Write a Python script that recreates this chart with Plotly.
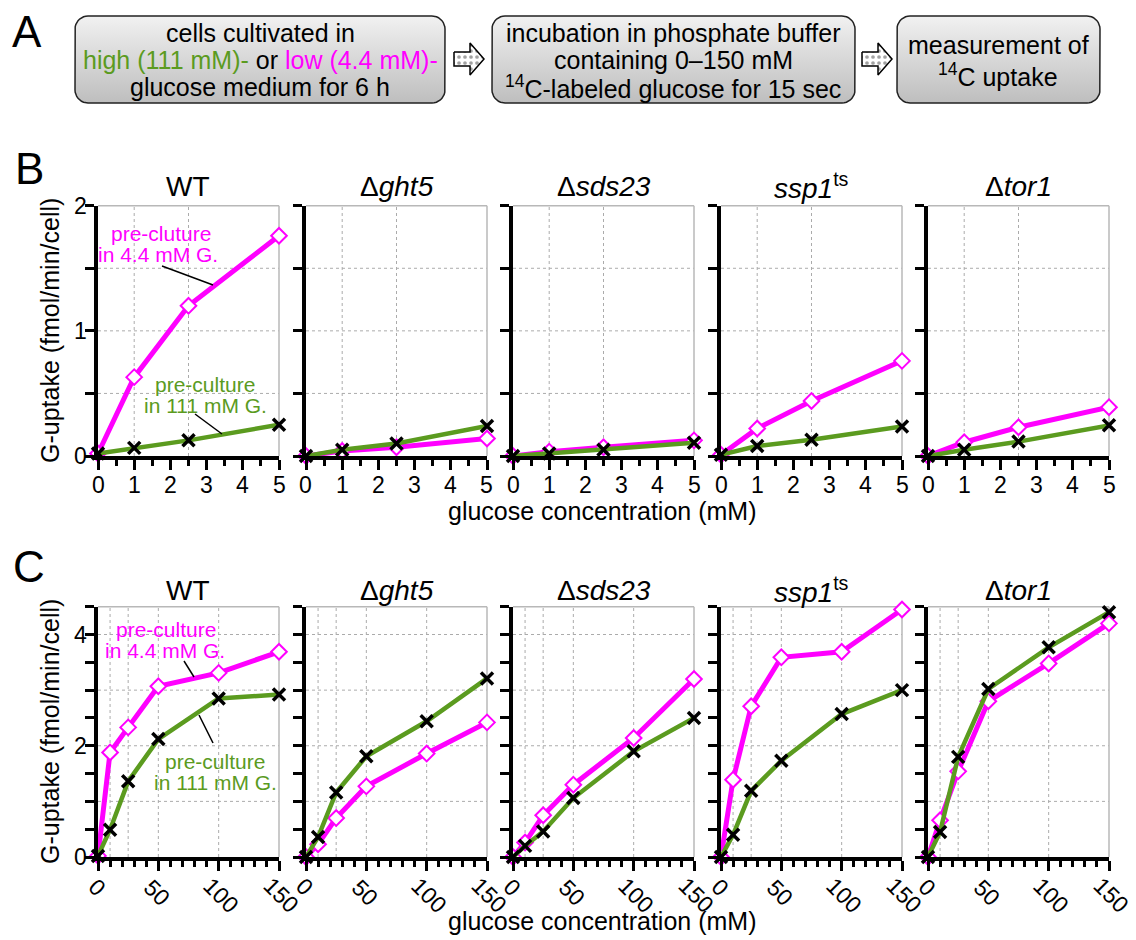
import numpy as np
import plotly.graph_objects as go

W, H = 1136, 940
FONT = "Liberation Sans, Arial, sans-serif"
GREEN = "#5b9b1f"
MAGENTA = "#ff00ff"
GRID = "#ababab"
BORDER = "#b8b8b8"

# ---------------- data ----------------
strain_titles = ["WT", "Δ<i>ght5</i>", "Δ<i>sds23</i>", "<i>ssp1</i><sup>ts</sup>", "Δ<i>tor1</i>"]

# Panel B: 0-5 mM glucose
b_conc = [0, 1, 2.5, 5]
b_wt_low = [0.02, 0.63, 1.20, 1.76]
b_wt_high = [0.02, 0.065, 0.125, 0.25]
b_ght5_low = [0.0, 0.04, 0.07, 0.14]
b_ght5_high = [0.0, 0.05, 0.10, 0.24]
b_sds23_low = [0.0, 0.035, 0.07, 0.125]
b_sds23_high = [0.0, 0.02, 0.05, 0.105]
b_ssp1_low = [0.01, 0.22, 0.44, 0.76]
b_ssp1_high = [0.01, 0.08, 0.13, 0.235]
b_tor1_low = [0.0, 0.11, 0.23, 0.39]
b_tor1_high = [0.0, 0.05, 0.115, 0.245]
b_xticks = [0, 1, 2, 3, 4, 5]
b_yticks = [0, 0.5, 1, 1.5, 2]
b_ylabels = [0, 1, 2]
b_ygrid = [0.5, 1, 1.5]

# Panel C: 0-150 mM glucose
c_conc = [0, 10, 25, 50, 100, 150]
c_wt_low = [0.02, 1.88, 2.33, 3.07, 3.31, 3.69]
c_wt_high = [0.02, 0.49, 1.36, 2.12, 2.85, 2.92]
c_ght5_low = [0.0, 0.23, 0.70, 1.27, 1.86, 2.42]
c_ght5_high = [0.0, 0.36, 1.16, 1.81, 2.44, 3.21]
c_sds23_low = [0.0, 0.26, 0.75, 1.30, 2.14, 3.20]
c_sds23_high = [0.0, 0.20, 0.46, 1.06, 1.90, 2.50]
c_ssp1_low = [0.0, 1.39, 2.71, 3.59, 3.69, 4.45]
c_ssp1_high = [0.0, 0.40, 1.19, 1.73, 2.57, 3.00]
c_tor1_low = [0.0, 0.66, 1.54, 2.80, 3.48, 4.20]
c_tor1_high = [0.0, 0.45, 1.80, 3.02, 3.77, 4.40]
c_xticks = [0, 50, 100, 150]
c_yticks = [0, 0.5, 1, 1.5, 2, 2.5, 3, 3.5, 4, 4.5]
c_ylabels = [0, 2, 4]
c_ygrid = [1, 2, 3, 4]

b_low = [b_wt_low, b_ght5_low, b_sds23_low, b_ssp1_low, b_tor1_low]
b_high = [b_wt_high, b_ght5_high, b_sds23_high, b_ssp1_high, b_tor1_high]
c_low = [c_wt_low, c_ght5_low, c_sds23_low, c_ssp1_low, c_tor1_low]
c_high = [c_wt_high, c_ght5_high, c_sds23_high, c_ssp1_high, c_tor1_high]

# ---------------- layout geometry (pixels) ----------------
panel_x = [(98, 279), (306, 487), (513, 694), (721, 902), (928, 1109)]
row_y = [(205.7, 456), (606.7, 857)]


def fx(p):
    return p / W


def fy(p):
    return 1 - p / H


fig = go.Figure()
shapes = []
annotations = []


def ann(text, x, y, size, color="black", angle=0):
    annotations.append(dict(
        text=text, x=fx(x), y=fy(y), xref="paper", yref="paper",
        showarrow=False, xanchor="center", yanchor="middle",
        textangle=angle, font=dict(family=FONT, size=size, color=color)))


layout_axes = {}
for row in range(2):
    conc = b_conc if row == 0 else c_conc
    lows = b_low if row == 0 else c_low
    highs = b_high if row == 0 else c_high
    yr = [0, 2] if row == 0 else [0, 4.5]
    xr = [0, 5] if row == 0 else [0, 150]
    ytv = b_yticks if row == 0 else c_yticks
    ylab = b_ylabels if row == 0 else c_ylabels
    xtv = b_xticks if row == 0 else c_xticks
    ygrid = b_ygrid if row == 0 else c_ygrid
    for col in range(5):
        n = row * 5 + col + 1
        xa = "x" if n == 1 else f"x{n}"
        ya = "y" if n == 1 else f"y{n}"
        xkey = "xaxis" if n == 1 else f"xaxis{n}"
        ykey = "yaxis" if n == 1 else f"yaxis{n}"
        l, r = panel_x[col]
        t, b = row_y[row]
        layout_axes[xkey] = dict(
            domain=[fx(l), fx(r)], range=xr, anchor=ya, automargin=False,
            showline=True, linecolor="black", linewidth=4,
            ticks="outside", ticklen=10, tickwidth=3, tickcolor="black",
            tickmode="array", tickvals=xtv, showticklabels=False,
            minor=dict(ticks="outside", dtick=0.5 if row == 0 else 10, tick0=0,
                       ticklen=6, tickwidth=3, tickcolor="black", showgrid=False),
            showgrid=False, zeroline=False, fixedrange=True)
        layout_axes[ykey] = dict(
            domain=[fy(b), fy(t)], range=yr, anchor=xa, automargin=False,
            showline=True, linecolor="black", linewidth=4,
            ticks="outside", ticklen=9, tickwidth=3, tickcolor="black",
            tickmode="array", tickvals=ytv, showticklabels=False,
            showgrid=False, zeroline=False, fixedrange=True)
        # gridlines
        for v in conc[1:-1]:
            shapes.append(dict(type="line", xref=xa, yref=f"{ya} domain", x0=v, x1=v, y0=0, y1=1,
                               line=dict(color=GRID, width=1, dash="dot"), layer="below"))
        for v in ygrid:
            shapes.append(dict(type="line", xref=f"{xa} domain", yref=ya, x0=0, x1=1, y0=v, y1=v,
                               line=dict(color=GRID, width=1, dash="dot"), layer="below"))
        # grey top/right frame
        shapes.append(dict(type="line", xref=f"{xa} domain", yref=f"{ya} domain", x0=0, x1=1, y0=1, y1=1,
                           line=dict(color=BORDER, width=1.5), layer="below"))
        shapes.append(dict(type="line", xref=f"{xa} domain", yref=f"{ya} domain", x0=1, x1=1, y0=0, y1=1,
                           line=dict(color=BORDER, width=1.5), layer="below"))
        # traces
        fig.add_trace(go.Scatter(
            x=conc, y=lows[col], xaxis=xa, yaxis=ya, mode="lines+markers", cliponaxis=False,
            line=dict(color=MAGENTA, width=5),
            marker=dict(symbol="diamond", size=12, color="white", line=dict(color=MAGENTA, width=2)),
            hoverinfo="skip", showlegend=False))
        fig.add_trace(go.Scatter(
            x=conc, y=highs[col], xaxis=xa, yaxis=ya, mode="lines+markers", cliponaxis=False,
            line=dict(color=GREEN, width=4.5),
            marker=dict(symbol="x-thin", size=12, color="black", line=dict(color="black", width=3.5)),
            hoverinfo="skip", showlegend=False))
        # strain titles
        ann(strain_titles[col], (l + r) / 2, 186 if row == 0 else 590, 28)
        # y tick labels (first column only)
        if col == 0:
            for v in ylab:
                annotations.append(dict(
                    text=str(v), x=fx(80), xref="paper", y=v, yref=ya,
                    showarrow=False, xanchor="center", yanchor="middle",
                    font=dict(family=FONT, size=23, color="black")))
        # x tick labels
        for v in xtv:
            s = str(v)
            if row == 0:
                annotations.append(dict(
                    text=s, x=v, xref=xa, y=fy(485), yref="paper",
                    showarrow=False, xanchor="center", yanchor="middle",
                    font=dict(family=FONT, size=23, color="black")))
            else:
                dx = {1: -1, 2: -1, 3: 2}[len(s)]
                cy = {1: 887, 2: 893, 3: 895}[len(s)]
                annotations.append(dict(
                    text=s, x=v, xref=xa, y=fy(cy), yref="paper", xshift=dx,
                    showarrow=False, xanchor="center", yanchor="middle", textangle=45,
                    font=dict(family=FONT, size=23, color="black")))

# axis titles
ann("G-uptake (fmol/min/cell)", 50, 331, 25, angle=-90)
ann("G-uptake (fmol/min/cell)", 50, 732, 25, angle=-90)
ann("glucose concentration (mM)", 602, 511, 25)
ann("glucose concentration (mM)", 602, 921, 25)

# panel letters
ann("A", 27, 31, 44)
ann("B", 29, 168, 44)
ann("C", 29, 566, 44)

# in-plot labels
ann("pre-cluture", 161, 234, 21, MAGENTA)
ann("in 4.4 mM G.", 158, 255, 21, MAGENTA)
ann("pre-culture", 205, 385, 21, GREEN)
ann("in 111 mM G.", 205, 405, 21, GREEN)
ann("pre-culture", 166, 629, 21, MAGENTA)
ann("in 4.4 mM G.", 165, 650, 21, MAGENTA)
ann("pre-culture", 215, 761, 21, GREEN)
ann("in 111 mM G.", 215, 782, 21, GREEN)
for (x0, y0, x1, y1) in [(162, 266, 213, 285), (195, 414, 222, 434),
                         (184, 661, 194, 677), (199, 715, 213, 743)]:
    shapes.append(dict(type="line", xref="paper", yref="paper", x0=fx(x0), y0=fy(y0),
                       x1=fx(x1), y1=fy(y1), line=dict(color="black", width=1.5)))

# ---------------- panel A: flow boxes ----------------
layout_axes["xaxis11"] = dict(domain=[0, 1], range=[0, W], visible=False, fixedrange=True,
                              anchor="y11", automargin=False)
layout_axes["yaxis11"] = dict(domain=[0, 1], range=[H, 0], visible=False, fixedrange=True,
                              anchor="x11", automargin=False)


def rrect(x0, y0, x1, y1, r, n=10):
    xs, ys = [], []
    for cx, cy, a0, a1 in [(x1 - r, y0 + r, -90, 0), (x1 - r, y1 - r, 0, 90),
                           (x0 + r, y1 - r, 90, 180), (x0 + r, y0 + r, 180, 270)]:
        for a in np.linspace(np.radians(a0), np.radians(a1), n):
            xs.append(cx + r * np.cos(a))
            ys.append(cy + r * np.sin(a))
    xs.append(xs[0])
    ys.append(ys[0])
    return xs, ys


boxes = [(75, 16, 445, 103), (492, 16, 855, 103), (897, 16, 1100, 103)]
for (x0, y0, x1, y1) in boxes:
    xs, ys = rrect(x0, y0, x1, y1, 13)
    fig.add_trace(go.Scatter(
        x=xs, y=ys, xaxis="x11", yaxis="y11", mode="lines", fill="toself",
        fillgradient=dict(type="vertical", colorscale=[[0, "#f1f1f1"], [1, "#bebebe"]], start=y0, stop=y1),
        line=dict(color="#222222", width=1.5), hoverinfo="skip", showlegend=False))

for bx0 in [454, 862]:
    cy = 59
    ax = [bx0, bx0 + 16, bx0 + 16, bx0 + 30, bx0 + 16, bx0 + 16, bx0, bx0]
    ay = [cy - 7, cy - 7, cy - 16, cy, cy + 16, cy + 7, cy + 7, cy - 7]
    fig.add_trace(go.Scatter(
        x=ax, y=ay, xaxis="x11", yaxis="y11", mode="lines", fill="toself",
        fillcolor="white",
        fillpattern=dict(shape=".", fgcolor="#444444", bgcolor="white", size=6, solidity=0.3),
        line=dict(color="black", width=1.5), hoverinfo="skip", showlegend=False))

ann("cells cultivated in", 260, 33, 25)
ann(f"<span style='color:{GREEN}'>high (111 mM)-</span> or <span style='color:{MAGENTA}'>low (4.4 mM)-</span>",
    260, 60, 25)
ann("glucose medium for 6 h", 260, 87, 25)
ann("incubation in phosphate buffer", 673, 33, 25)
ann("containing 0\u2013150 mM", 673, 60, 25)
ann("<sup>14</sup>C-labeled glucose for 15 sec", 673, 87, 25)
ann("measurement of", 998, 45, 25)
ann("<sup>14</sup>C uptake", 998, 75, 25)

fig.update_layout(
    width=W, height=H, autosize=False,
    margin=dict(l=0, r=0, t=0, b=0, pad=0),
    paper_bgcolor="white", plot_bgcolor="rgba(0,0,0,0)",
    showlegend=False, hovermode=False,
    font=dict(family=FONT, color="black"),
    shapes=shapes, annotations=annotations,
    **layout_axes)

fig.write_html(
    "out.html",
    config={"displayModeBar": False},
    post_script=("document.body.style.margin='0px';document.body.style.padding='0px';"
                 "document.body.style.overflow='hidden';"))
